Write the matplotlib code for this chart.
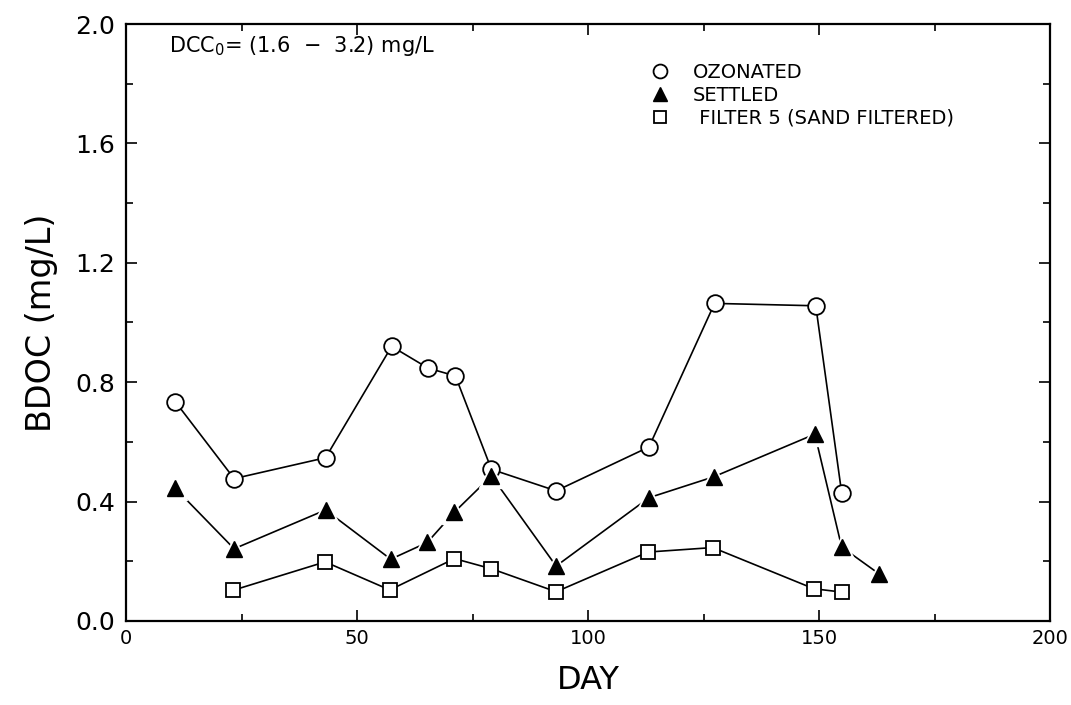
import matplotlib
matplotlib.use("Agg")
import matplotlib.pyplot as plt
from matplotlib.ticker import MultipleLocator, FormatStrFormatter
from matplotlib.lines import Line2D

# ---- data ----
oz_day = [10.7, 23.4, 43.2, 57.5, 65.4, 71.3, 79.1, 93.1, 113.2, 127.4, 149.3, 154.9]
oz_bdoc = [0.734, 0.477, 0.547, 0.920, 0.847, 0.821, 0.508, 0.436, 0.583, 1.064, 1.056, 0.430]

set_day = [10.7, 23.4, 43.2, 57.3, 65.2, 71.1, 79.1, 93.1, 113.2, 127.2, 149.1, 154.9, 162.9]
set_bdoc = [0.444, 0.242, 0.372, 0.207, 0.263, 0.365, 0.486, 0.184, 0.413, 0.483, 0.626, 0.248, 0.159]

fil_day = [23.2, 43.1, 57.1, 71.1, 79.1, 93.1, 113.0, 127.0, 148.9, 154.9]
fil_bdoc = [0.103, 0.198, 0.104, 0.209, 0.175, 0.098, 0.231, 0.246, 0.108, 0.097]

series_labels = ["OZONATED", "SETTLED", " FILTER 5 (SAND FILTERED)"]
x_ticks = [0, 50, 100, 150, 200]
y_ticks = [0.0, 0.4, 0.8, 1.2, 1.6, 2.0]
x_label = "DAY"
y_label = "BDOC (mg/L)"
note = "DCC$_0$= (1.6  −  3.2) mg/L"

plt.rcParams['font.family'] = ['DejaVu Sans']
plt.rcParams['mathtext.default'] = 'regular'

fig = plt.figure(figsize=(10.71, 7.05), dpi=100)
ax = fig.add_axes([126/1071, 1 - 621/705, (1050-126)/1071, (621-24)/705])

lw = 1.2
# ozonated
ax.plot(oz_day, oz_bdoc, color='black', lw=lw, marker='o', ms=12,
        mfc='white', mec='black', mew=1.3, zorder=3)
# settled: line, white halo, black triangles
ax.plot(set_day, set_bdoc, color='black', lw=lw, zorder=2)
ax.plot(set_day, set_bdoc, ls='none', marker='^', ms=17, mfc='white', mec='white', zorder=3)
ax.plot(set_day, set_bdoc, ls='none', marker='^', ms=11, mfc='black', mec='black', zorder=4)
# filter 5
ax.plot(fil_day, fil_bdoc, color='black', lw=lw, marker='s', ms=10,
        mfc='white', mec='black', mew=1.3, zorder=3)

ax.set_xlim(x_ticks[0], x_ticks[-1])
ax.set_ylim(y_ticks[0], y_ticks[-1])
ax.set_xticks(x_ticks)
ax.set_yticks(y_ticks)
ax.xaxis.set_minor_locator(MultipleLocator(25))
ax.yaxis.set_minor_locator(MultipleLocator(0.2))
ax.yaxis.set_major_formatter(FormatStrFormatter('%.1f'))
ax.tick_params(which='both', direction='in', top=True, right=True, width=1.2)
ax.tick_params(which='major', length=8)
ax.tick_params(which='minor', length=5)
ax.tick_params(axis='x', labelsize=14, pad=6)
ax.tick_params(axis='y', labelsize=18, pad=8)
for s in ax.spines.values():
    s.set_linewidth(1.6)

ax.set_xlabel(x_label, fontsize=23, labelpad=12)
ax.set_ylabel(y_label, fontsize=24, labelpad=12)

ax.text(0.047, 0.963, note, transform=ax.transAxes, fontsize=15,
        va='center', ha='left')

handles = [
    Line2D([], [], ls='none', marker='o', ms=10, mfc='white', mec='black', mew=1.3),
    Line2D([], [], ls='none', marker='^', ms=10, mfc='black', mec='black'),
    Line2D([], [], ls='none', marker='s', ms=8, mfc='white', mec='black', mew=1.3),
]
ax.legend(handles, series_labels, loc='upper left', bbox_to_anchor=(0.567, 0.935),
          frameon=False, fontsize=14, handlelength=1.0, handletextpad=1.2,
          labelspacing=0.2, borderpad=0, borderaxespad=0)

fig.savefig("out.png", dpi=100)
